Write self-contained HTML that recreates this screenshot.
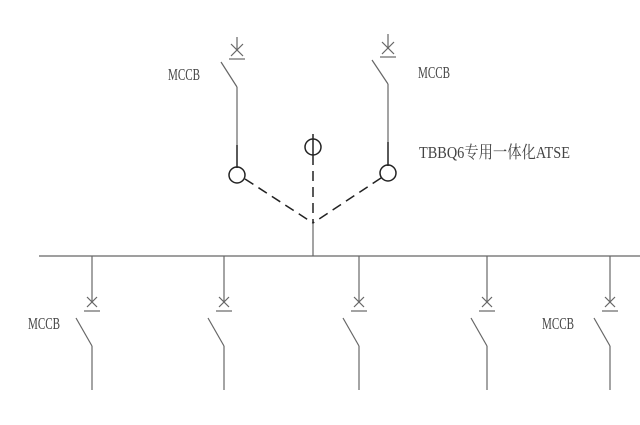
<!DOCTYPE html>
<html><head><meta charset="utf-8"><style>
html,body{margin:0;padding:0;background:#fff;width:640px;height:425px;overflow:hidden}
text{font-family:"Liberation Serif","Noto Serif CJK SC",serif;font-size:17px;fill:#444}
</style></head><body>
<svg width="640" height="425" viewBox="0 0 640 425" xmlns="http://www.w3.org/2000/svg">
<g stroke="#666" stroke-width="1.2" fill="none">
<line x1="237" y1="37" x2="237" y2="50"/>
<line x1="231" y1="44" x2="243" y2="56"/><line x1="243" y1="44" x2="231" y2="56"/>
<line x1="229" y1="59" x2="245" y2="59"/>
<line x1="221" y1="62" x2="237" y2="87"/>
<line x1="237" y1="87" x2="237" y2="145"/>
<line x1="388" y1="34" x2="388" y2="48"/>
<line x1="382" y1="42" x2="394" y2="54"/><line x1="394" y1="42" x2="382" y2="54"/>
<line x1="380" y1="57" x2="396" y2="57"/>
<line x1="372" y1="60" x2="388" y2="84"/>
<line x1="388" y1="84" x2="388" y2="142"/>
<line x1="39" y1="256" x2="640" y2="256"/>
<line x1="313" y1="223" x2="313" y2="256"/>
</g>
<g stroke="#222" stroke-width="1.5" fill="none">
<line x1="237" y1="145" x2="237" y2="168"/>
<line x1="388" y1="142" x2="388" y2="166"/>
<circle cx="237" cy="175" r="8"/>
<circle cx="388" cy="173" r="8"/>
<circle cx="313" cy="147" r="8"/>
<line x1="313" y1="134" x2="313" y2="155"/>
<line x1="313" y1="155" x2="313" y2="223" stroke-dasharray="10,6"/>
<line x1="245" y1="179" x2="313" y2="223" stroke-dasharray="10,6"/>
<line x1="381" y1="178" x2="313" y2="223" stroke-dasharray="10,6"/>
</g>
<g stroke="#666" stroke-width="1.2" fill="none">
<g id="b"><line x1="92" y1="256" x2="92" y2="302"/>
<line x1="87" y1="297" x2="97" y2="307"/><line x1="97" y1="297" x2="87" y2="307"/>
<line x1="84" y1="311" x2="100" y2="311"/>
<line x1="76" y1="318" x2="92" y2="346"/>
<line x1="92" y1="346" x2="92" y2="390"/></g>
<use href="#b" x="132"/>
<use href="#b" x="267"/>
<use href="#b" x="395"/>
<use href="#b" x="518"/>
</g>
<text x="168" y="80" textLength="32" lengthAdjust="spacingAndGlyphs">MCCB</text>
<text x="418" y="78" textLength="32" lengthAdjust="spacingAndGlyphs">MCCB</text>
<text x="419" y="158" textLength="151" lengthAdjust="spacingAndGlyphs">TBBQ6专用一体化ATSE</text>
<text x="28" y="329" textLength="32" lengthAdjust="spacingAndGlyphs">MCCB</text>
<text x="542" y="329" textLength="32" lengthAdjust="spacingAndGlyphs">MCCB</text>
</svg>
</body></html>
